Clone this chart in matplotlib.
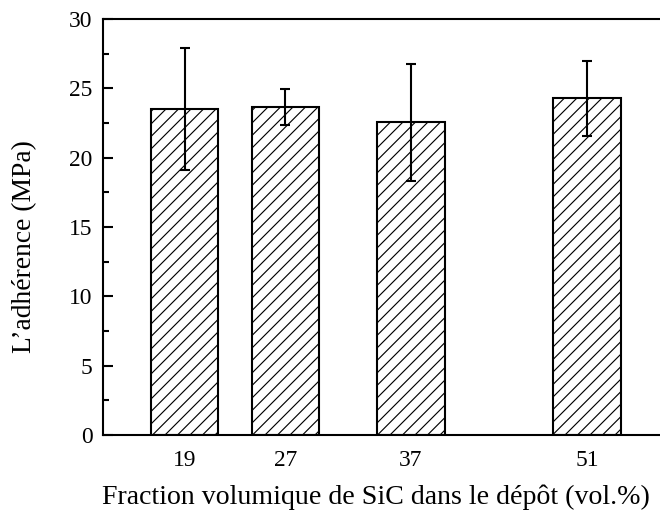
import matplotlib
matplotlib.use("Agg")
import matplotlib.pyplot as plt
from matplotlib.ticker import MultipleLocator

# SiC volume fraction in the deposit (vol.%) and measured adhesion (MPa)
sic_fraction = [19, 27, 37, 51]
adhesion = [23.5, 23.67, 22.55, 24.27]
adhesion_err = [4.4, 1.3, 4.2, 2.7]
x_tick_labels = ["19", "27", "37", "51"]

plt.rcParams["font.family"] = ["Liberation Serif", "DejaVu Serif"]
plt.rcParams["hatch.linewidth"] = 0.55
plt.rcParams["hatch.color"] = "black"

DPI = 150
fig = plt.figure(figsize=(660 / DPI, 511 / DPI), dpi=DPI)
ax = fig.add_axes([0.156, 0.1487, 0.857, 0.8141])

ax.bar(sic_fraction, adhesion, width=5.35, color="white", edgecolor="black",
       linewidth=1.0, hatch="////", zorder=2)
ax.errorbar(sic_fraction, adhesion, yerr=adhesion_err, fmt="none",
            ecolor="black", elinewidth=1.0, capsize=2.2, capthick=1.0, zorder=3)

ax.set_xlim(12.5, 57.5)
ax.set_ylim(0, 30)
ax.yaxis.set_major_locator(MultipleLocator(5))
ax.yaxis.set_minor_locator(MultipleLocator(2.5))
ax.set_xticks(sic_fraction)
ax.set_xticklabels(x_tick_labels)

for side in ["left", "bottom", "top", "right"]:
    ax.spines[side].set_linewidth(1.0)

ax.tick_params(axis="y", which="major", direction="in", length=4.8, width=1.0,
               labelsize=11.3, pad=5)
ax.tick_params(axis="y", which="minor", direction="in", length=2.9, width=1.0)
ax.tick_params(axis="x", which="both", length=0, labelsize=11.3, pad=7.2)

ax.set_xlabel("Fraction volumique de SiC dans le dépôt (vol.%)", fontsize=13.4)
ax.xaxis.label.set_va("center")
ax.xaxis.set_label_coords(0.482, -0.149)
ax.set_ylabel("L\u2019adhérence (MPa)", fontsize=13.2)
ax.yaxis.label.set_va("center")
ax.yaxis.set_label_coords(-0.138, 0.452)

fig.savefig("out.png", dpi=DPI)
